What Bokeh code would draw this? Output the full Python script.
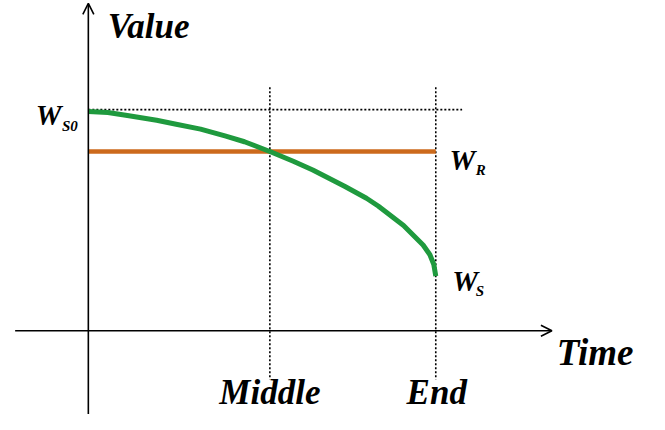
from bokeh.plotting import figure
from bokeh.models import Range1d, Arrow, OpenHead
from bokeh.core.properties import value
from bokeh.embed import file_html
from bokeh.resources import INLINE

# ---- data (time units / value units) ----
tick_times = [186, 356]
tick_labels = ["Middle", "End"]
ws_time = [0, 20, 40, 70, 90, 115, 140, 160, 186, 210, 230, 263, 285, 297, 323, 343, 350, 354, 356]
ws_value = [225, 224, 221, 216, 212, 207, 200, 194, 184, 174, 165, 148, 136, 128, 108, 88, 78, 68, 56]
wr_value = 184
ws0_value = 227
t_end = 356

FONT = value("Liberation Serif")

p = figure(width=649, height=414, output_backend="svg", toolbar_location=None,
           x_range=Range1d(-90, 575), y_range=Range1d(-86, 339), min_border=0)
p.axis.visible = False
p.grid.visible = False
p.outline_line_color = None

# dotted guides
p.line([0, 383], [ws0_value, ws0_value], line_color="black", line_width=1.6, line_dash="2 2")
for t in tick_times:
    p.line([t, t], [250, -50], line_color="black", line_width=1.6, line_dash="2 2")

# series
p.line([0, t_end], [wr_value, wr_value], line_color="#CC6A1C", line_width=4.5)
p.line(ws_time, ws_value, line_color="#1F9A3E", line_width=5, line_join="round")

# axes with arrows
p.add_layout(Arrow(end=OpenHead(size=11, line_width=1.6, line_color="black"),
                   x_start=0, y_start=-90, x_end=0, y_end=336,
                   line_width=1.6, line_color="black"))
p.add_layout(Arrow(end=OpenHead(size=11, line_width=1.6, line_color="black"),
                   x_start=-75, y_start=0, x_end=475, y_end=0,
                   line_width=1.6, line_color="black"))

style = dict(text_font=FONT, text_font_style="bold italic", text_color="black",
             text_baseline="alphabetic")

p.text(x=[20], y=[312], text=["Value"], text_font_size="35px", text_align="left", **style)
p.text(x=[480], y=[-22], text=["Time"], text_font_size="37px", text_align="left", **style)
p.text(x=[186, 357], y=[-63, -63], text=tick_labels, text_font_size="35px",
       text_align="center", **style)

# W labels with subscripts
p.text(x=[-54, 370, 373], y=[221, 175, 51], text=["W", "W", "W"],
       text_font_size="29px", text_align="left", **style)
p.text(x=[-27, 397, 397], y=[210, 165, 41], text=["S0", "R", "S"],
       text_font_size="15px", text_align="left", **style)

open("out.html", "w").write(file_html(p, INLINE))
